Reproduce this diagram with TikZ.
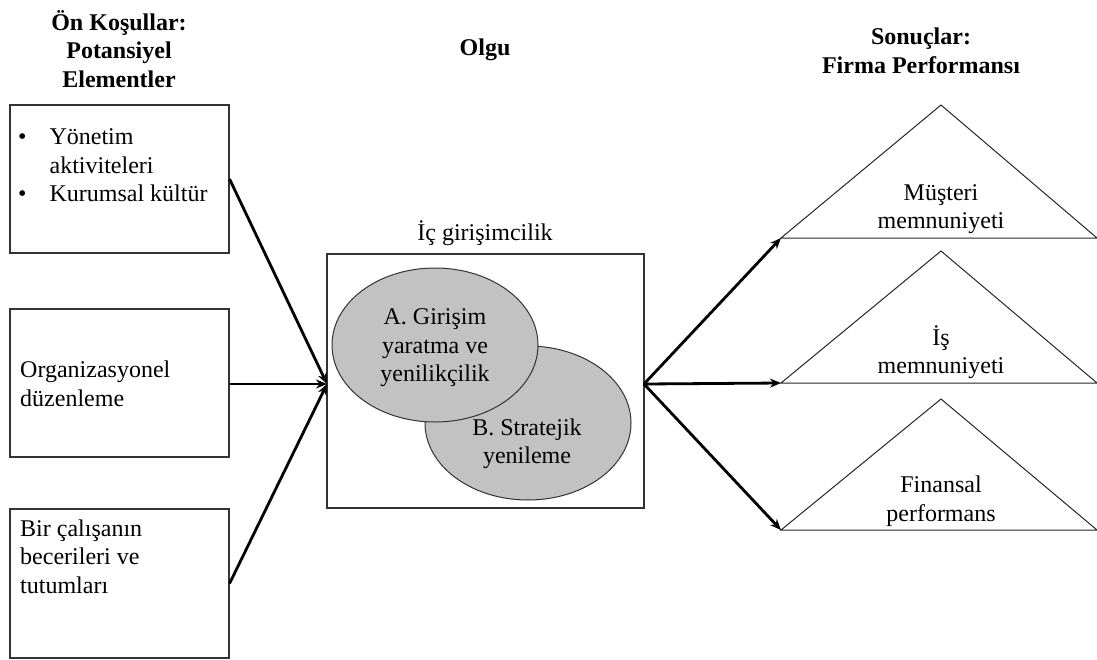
\documentclass[tikz,border=0pt]{standalone}
\usepackage{fontspec}
\setmainfont{Liberation Serif}
\usetikzlibrary{arrows.meta,shapes.geometric}
\begin{document}
\begin{tikzpicture}[x=1pt,y=-1pt,
  txt/.style={font=\fontsize{24}{28.5}\selectfont, inner sep=0pt, align=left},
  ctxt/.style={font=\fontsize{24}{28.5}\selectfont, inner sep=0pt, align=center},
  head/.style={font=\fontsize{24}{28.5}\selectfont\bfseries, inner sep=0pt, align=center},
  frame/.style={draw=black!80, line width=1.1pt, fill=white, rectangle, inner sep=0pt},
  link/.style={line width=2.8pt, -{Stealth[length=11pt,width=9pt]}},
  blob/.style={ellipse, draw=black!80, line width=1pt, fill=black!24,
    minimum width=206pt, minimum height=154pt, inner sep=0pt},
  tri/.style={draw=black!85, line width=1pt, line join=miter}]
\useasboundingbox (0,0) rectangle (1097,659);

% column headings
\node[head] (hl) at (119,49) {Ön Koşullar:\\Potansiyel\\Elementler};
\node[head] (hm) at (485,50) {Olgu};
\node[head] (hr) at (921,51) {Sonuçlar:\\Firma Performansı};

% antecedent boxes
\node[frame, minimum width=219pt, minimum height=148pt] (b1) at (119.5,179) {};
\node[frame, minimum width=219pt, minimum height=148pt] (b2) at (119.5,383) {};
\node[frame, minimum width=219pt, minimum height=149pt] (b3) at (119.5,583.5) {};

\node[txt, anchor=west] (t1) at (18,167.5) {%
  \begin{tabular}{@{}l@{\hspace{23pt}}l@{}}
  \textbullet & Yönetim\\
   & aktiviteleri\\
  \textbullet & Kurumsal kültür
  \end{tabular}};
\node[txt, anchor=west] (t2) at (20,384) {Organizasyonel\\düzenleme};
\node[txt, anchor=west] (t3) at (20,556.5) {Bir çalışanın\\becerileri ve\\tutumları};

% phenomenon box with the two overlapping dimensions
\node[ctxt] (lc) at (485,233) {İç girişimcilik};
\node[frame, minimum width=317pt, minimum height=254pt] (c) at (485.5,381) {};
\node[blob] (eb) at (528,423) {};
\node[blob] (ea) at (435,345) {};
\node[ctxt] (ta) at (435,348) {A. Girişim\\yaratma ve\\yenilikçilik};
\node[ctxt] (tb) at (527,444) {B. Stratejik\\yenileme};

% outcome triangles
\coordinate (p1) at (781,238);
\coordinate (p2) at (781,383);
\coordinate (p3) at (781,530);
\draw[tri] (p1) -- (941,105) -- (1097,238) -- cycle;
\draw[tri] (p2) -- (941,251) -- (1097,383) -- cycle;
\draw[tri] (p3) -- (941,399) -- (1097,530) -- cycle;
\node[ctxt] (r1) at (941,209) {Müşteri\\memnuniyeti};
\node[ctxt] (r2) at (941,352) {İş\\memnuniyeti};
\node[ctxt] (r3) at (941,501) {Finansal\\performans};

% connectors
\coordinate (cin) at (327,384);
\coordinate (cout) at (644,384);
\draw[link] (b1.east) -- (cin);
\draw[link] (b2.east |- cin) -- (cin);
\draw[link] (b3.east) -- (cin);
\draw[link] (cout) -- (p1);
\draw[link] (cout) -- (p2);
\draw[link] (cout) -- (p3);
\end{tikzpicture}
\end{document}
